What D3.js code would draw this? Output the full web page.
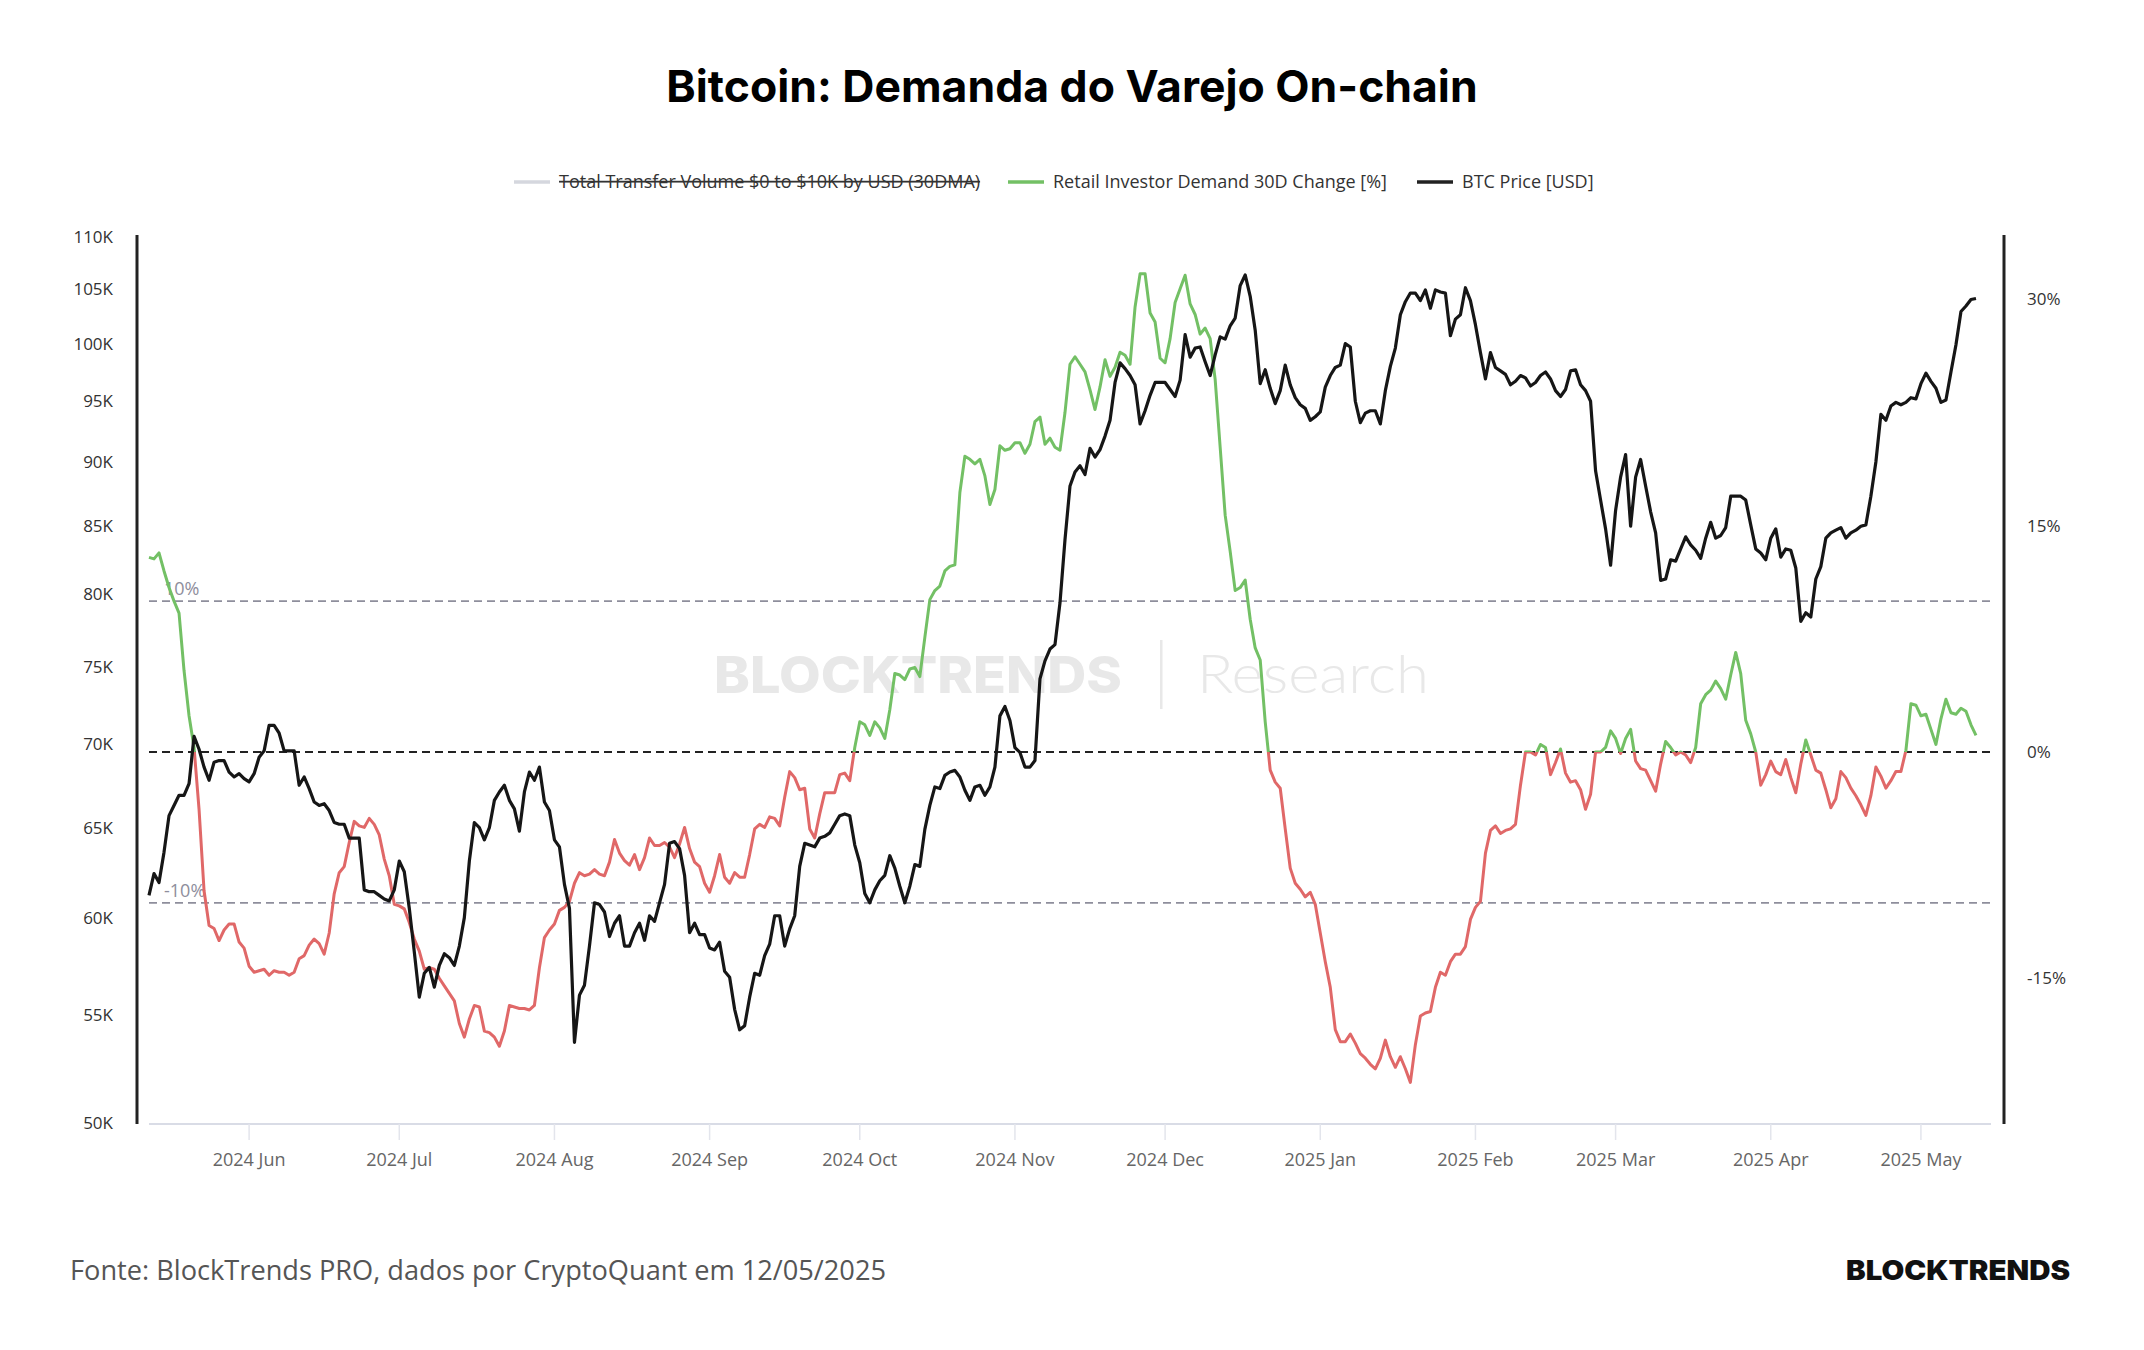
<!DOCTYPE html>
<html lang="pt">
<head>
<meta charset="UTF-8">
<title>Bitcoin: Demanda do Varejo On-chain</title>
<script src="https://d3js.org/d3.v7.min.js"></script>
<style>
  body { margin: 0; background: #fff; }
  svg { display: block; }
  .tick-label { font-family: "Open Sans", sans-serif; font-size: 17px; fill: #333; }
  .x-label { font-family: "Open Sans", sans-serif; font-size: 18px; fill: #666; }
  .legend-text { font-family: "Open Sans", sans-serif; font-size: 18px; fill: #333; }
</style>
</head>
<body>
<svg id="chart" width="2144" height="1350"></svg>
<script>
// Dados (diarios, a partir de 12/05/2024)
const startDate = "2024-05-12";

// BTC Price [USD], em milhares
const btcPrice = [
  61.2,62.4,61.9,63.6,65.7,66.3,66.9,66.9,67.6,70.5,69.7,68.6,67.8,68.9,69.0,69.0,68.3,68.0,68.2,67.9,
  67.7,68.2,69.2,69.6,71.2,71.2,70.7,69.6,69.6,69.6,67.5,68.0,67.3,66.5,66.3,66.4,66.0,65.3,65.2,65.2,
  64.4,64.4,64.4,61.5,61.4,61.4,61.2,61.0,60.9,61.5,63.1,62.5,60.5,58.2,55.9,57.1,57.4,56.4,57.5,58.1,
  57.9,57.5,58.5,60.0,63.1,65.3,65.0,64.3,65.0,66.6,67.1,67.5,66.6,66.1,64.8,67.1,68.3,67.8,68.6,66.5,
  66.0,64.3,63.9,61.8,60.5,53.7,56.0,56.5,58.5,60.8,60.7,60.3,59.0,59.7,60.1,58.5,58.5,59.2,59.7,58.8,
  60.1,59.8,60.8,61.8,64.1,64.2,63.8,62.3,59.2,59.7,59.1,59.1,58.4,58.3,58.7,57.2,56.9,55.3,54.3,54.5,
  55.9,57.1,57.0,58.0,58.6,60.1,60.1,58.5,59.4,60.1,62.8,64.1,64.0,63.9,64.4,64.5,64.7,65.2,65.7,65.8,
  65.7,64.0,63.0,61.3,60.8,61.5,62.0,62.3,63.4,62.7,61.7,60.8,61.7,62.9,62.8,64.9,66.3,67.4,67.3,68.1,
  68.3,68.4,68.0,67.2,66.6,67.4,67.5,66.9,67.4,68.6,71.8,72.4,71.5,69.8,69.5,68.6,68.6,69.0,74.2,75.4,
  76.2,76.5,79.4,84.0,88.1,89.2,89.7,89.0,91.1,90.4,91.0,92.1,93.4,96.6,98.3,97.8,97.2,96.4,93.1,94.2,
  95.5,96.6,96.6,96.6,96.0,95.4,96.8,100.8,98.8,99.6,99.7,98.4,97.2,99.0,100.6,100.4,101.6,102.3,105.3,106.3,
  104.3,101.2,96.5,97.7,96.1,94.8,95.9,98.1,96.4,95.3,94.7,94.4,93.4,93.7,94.1,96.2,97.2,97.9,98.1,100.0,
  99.7,95.0,93.2,94.0,94.2,94.2,93.1,95.9,98.0,99.6,102.6,103.8,104.6,104.6,103.9,104.9,103.2,104.9,104.7,104.6,
  100.7,102.2,102.6,105.1,103.9,101.7,99.2,96.9,99.2,97.9,97.6,97.3,96.4,96.7,97.2,97.0,96.3,96.6,97.2,97.5,
  96.9,95.9,95.4,96.0,97.6,97.7,96.4,95.9,95.0,89.3,87.0,84.8,82.1,86.2,88.8,90.6,85.0,88.8,90.2,88.1,
  86.1,84.5,81.0,81.1,82.5,82.4,83.3,84.2,83.6,83.2,82.6,84.1,85.3,84.1,84.3,84.9,87.3,87.3,87.3,87.0,
  85.1,83.3,83.0,82.5,84.1,84.8,82.7,83.3,83.2,81.9,78.1,78.7,78.4,81.1,82.0,84.1,84.5,84.7,84.9,84.1,
  84.5,84.7,85.0,85.1,87.3,90.0,93.9,93.4,94.6,94.9,94.7,94.9,95.3,95.2,96.5,97.4,96.7,96.1,94.9,95.1,
  97.5,99.9,102.9,103.4,104.0,104.1
];

// Retail Investor Demand 30D Change [%]
const retailDemand = [
  12.9,12.8,13.2,12.0,10.9,10.0,9.2,5.4,2.4,0.3,-3.8,-9.2,-11.5,-11.7,-12.5,-11.8,-11.4,-11.4,-12.6,-13.0,
  -14.2,-14.6,-14.5,-14.4,-14.8,-14.5,-14.6,-14.6,-14.8,-14.6,-13.7,-13.5,-12.8,-12.4,-12.7,-13.4,-12.0,-9.4,-8.0,-7.6,
  -6.0,-4.6,-4.9,-5.0,-4.4,-4.8,-5.5,-7.1,-8.2,-10.1,-10.2,-10.4,-11.3,-12.4,-13.2,-14.4,-14.3,-14.4,-15.0,-15.5,
  -16.0,-16.5,-18.0,-18.9,-17.7,-16.8,-16.9,-18.5,-18.6,-18.9,-19.5,-18.5,-16.8,-16.9,-17.0,-17.0,-17.1,-16.8,-14.3,-12.3,
  -11.8,-11.4,-10.5,-10.3,-9.9,-8.7,-8.0,-8.2,-8.1,-7.8,-8.1,-8.2,-7.3,-5.8,-6.7,-7.2,-7.5,-6.8,-7.8,-7.0,
  -5.7,-6.2,-6.2,-6.0,-6.3,-7.0,-6.1,-5.0,-6.4,-7.3,-7.6,-8.7,-9.3,-8.2,-6.8,-8.3,-8.7,-8.0,-8.3,-8.3,
  -6.8,-5.1,-4.8,-5.0,-4.3,-4.4,-4.9,-3.0,-1.3,-1.7,-2.5,-2.4,-5.1,-5.7,-4.1,-2.7,-2.7,-2.7,-1.5,-1.4,
  -1.9,0.3,2.0,1.8,1.1,2.0,1.6,0.9,2.8,5.2,5.1,4.8,5.5,5.6,5.0,7.6,10.1,10.7,11.0,12.0,
  12.3,12.4,17.2,19.6,19.4,19.1,19.4,18.3,16.4,17.4,20.3,20.0,20.1,20.5,20.5,19.8,20.4,21.9,22.2,20.4,
  20.8,20.2,20.0,22.5,25.7,26.2,25.7,25.2,24.0,22.7,24.2,26.0,24.9,25.5,26.5,26.3,25.7,29.5,31.7,31.7,
  29.1,28.5,26.1,25.8,27.4,29.8,30.7,31.6,29.7,29.0,27.7,28.1,27.4,24.7,20.2,15.7,13.3,10.7,10.9,11.4,
  8.8,6.9,6.1,2.0,-1.2,-2.0,-2.4,-5.1,-7.7,-8.7,-9.1,-9.6,-9.3,-10.1,-12.0,-13.9,-15.6,-18.4,-19.2,-19.2,
  -18.7,-19.3,-20.0,-20.3,-20.7,-21.0,-20.3,-19.1,-20.2,-20.9,-20.2,-21.0,-21.9,-19.4,-17.5,-17.3,-17.2,-15.6,-14.6,-14.8,
  -13.9,-13.4,-13.4,-12.9,-11.1,-10.3,-9.9,-6.7,-5.2,-4.9,-5.4,-5.2,-5.1,-4.8,-2.2,0.0,0.0,-0.2,0.5,0.3,
  -1.5,-0.7,0.2,-1.4,-2.0,-1.9,-2.5,-3.8,-2.8,0.0,0.0,0.3,1.4,0.9,-0.1,0.9,1.5,-0.6,-1.1,-1.2,
  -1.9,-2.6,-0.8,0.7,0.3,-0.2,0.0,-0.2,-0.7,0.3,3.2,3.8,4.1,4.7,4.2,3.5,5.1,6.6,5.2,2.1,
  1.2,0.0,-2.2,-1.5,-0.6,-1.3,-1.5,-0.5,-1.7,-2.7,-0.8,0.8,-0.2,-1.2,-1.4,-2.5,-3.7,-3.1,-1.3,-1.7,
  -2.4,-2.9,-3.5,-4.2,-2.9,-1.0,-1.6,-2.4,-1.9,-1.3,-1.3,0.1,3.2,3.1,2.4,2.5,1.5,0.5,2.2,3.5,
  2.6,2.5,2.9,2.7,1.8,1.1
];

const priceTicks = [50, 55, 60, 65, 70, 75, 80, 85, 90, 95, 100, 105, 110];
const pctTicks = [-15, 0, 15, 30];
const refLines = [10, 0, -10];
const monthTicks = ["2024-06-01","2024-07-01","2024-08-01","2024-09-01","2024-10-01","2024-11-01",
                    "2024-12-01","2025-01-01","2025-02-01","2025-03-01","2025-04-01","2025-05-01"];
const monthLabels = ["2024 Jun","2024 Jul","2024 Aug","2024 Sep","2024 Oct","2024 Nov",
                     "2024 Dec","2025 Jan","2025 Feb","2025 Mar","2025 Apr","2025 May"];

const parse = d3.timeParse("%Y-%m-%d");
const t0 = parse(startDate);
const priceData = btcPrice.map((v, i) => ({ date: d3.timeDay.offset(t0, i), value: v }));
const demandData = retailDemand.map((v, i) => ({ date: d3.timeDay.offset(t0, i), value: v }));

// Dimensoes
const W = 2144, H = 1350;
const plot = { left: 149, right: 1991, top: 236.5, bottom: 1122.5 };

const svg = d3.select("#chart");
svg.append("rect").attr("width", W).attr("height", H).attr("fill", "#fff");

// Escalas
const x = d3.scaleTime()
  .domain([t0, parse("2025-05-15")])
  .range([plot.left, plot.right]);
const yPrice = d3.scaleLog()
  .domain([50, 110])
  .range([plot.bottom, plot.top]);
const yPct = d3.scaleLinear()
  .domain([-24.56, 34.17])
  .range([plot.bottom, plot.top]);

// Titulo
svg.append("text")
  .attr("x", 1072).attr("y", 102)
  .attr("text-anchor", "middle")
  .style("font-family", "Inter, sans-serif")
  .style("font-weight", 700)
  .style("font-size", "44.5px")
  .attr("fill", "#000")
  .text("Bitcoin: Demanda do Varejo On-chain");

// Legenda
const legend = svg.append("g").attr("transform", "translate(0,182)");
const legendItems = [
  { x: 514, color: "#d5d7de", label: "Total Transfer Volume $0 to $10K by USD (30DMA)", off: true },
  { x: 1008, color: "#73c065", label: "Retail Investor Demand 30D Change [%]" },
  { x: 1417, color: "#222", label: "BTC Price [USD]" }
];
legendItems.forEach(d => {
  legend.append("line")
    .attr("x1", d.x).attr("x2", d.x + 36)
    .attr("y1", 0).attr("y2", 0)
    .attr("stroke", d.color).attr("stroke-width", 3.5);
  legend.append("text")
    .attr("class", "legend-text")
    .attr("x", d.x + 45).attr("y", 6)
    .attr("fill", d.off ? "#8a8a8a" : "#333")
    .style("text-decoration", d.off ? "line-through" : null)
    .text(d.label);
});

// Marca d'agua
const wm = svg.append("g").attr("fill", "#e8e8e8");
wm.append("text")
  .attr("x", 714).attr("y", 693)
  .attr("textLength", 408).attr("lengthAdjust", "spacingAndGlyphs")
  .style("font-family", "Inter, sans-serif")
  .style("font-weight", 800)
  .style("font-size", "51px")
  .text("BLOCKTRENDS");
wm.append("rect")
  .attr("x", 1160).attr("y", 640).attr("width", 2.5).attr("height", 69);
wm.append("text")
  .attr("x", 1197).attr("y", 693)
  .attr("textLength", 232).attr("lengthAdjust", "spacingAndGlyphs")
  .style("font-family", "Lato, sans-serif")
  .style("font-weight", 300)
  .style("font-size", "53px")
  .text("Research");

// Linhas de referencia
const refG = svg.append("g");
refLines.forEach(v => {
  refG.append("line")
    .attr("x1", plot.left).attr("x2", plot.right)
    .attr("y1", yPct(v)).attr("y2", yPct(v))
    .attr("stroke", v === 0 ? "#222" : "#8e8e9c")
    .attr("stroke-width", v === 0 ? 2 : 1.6)
    .attr("stroke-dasharray", "8,5");
});
refG.selectAll("text.ref")
  .data(refLines.filter(v => v !== 0))
  .join("text")
  .attr("class", "ref")
  .attr("x", 164).attr("y", v => yPct(v) - 6)
  .style("font-family", "Open Sans, sans-serif")
  .style("font-size", "18px")
  .attr("fill", "#8e8e9c")
  .text(v => v + "%");

// Eixo X
svg.append("line")
  .attr("x1", plot.left).attr("x2", plot.right)
  .attr("y1", 1124).attr("y2", 1124)
  .attr("stroke", "#d9dce6").attr("stroke-width", 2);
const xTickG = svg.append("g");
monthTicks.forEach((m, i) => {
  const px = x(parse(m));
  xTickG.append("line")
    .attr("x1", px).attr("x2", px)
    .attr("y1", 1124).attr("y2", 1140)
    .attr("stroke", "#e3e5ec").attr("stroke-width", 1.5);
  xTickG.append("text")
    .attr("class", "x-label")
    .attr("x", px).attr("y", 1166)
    .attr("text-anchor", "middle")
    .text(monthLabels[i]);
});

// Eixos Y
svg.append("line")
  .attr("x1", 137).attr("x2", 137).attr("y1", 235).attr("y2", 1124)
  .attr("stroke", "#222").attr("stroke-width", 3);
svg.append("line")
  .attr("x1", 2004).attr("x2", 2004).attr("y1", 235).attr("y2", 1124)
  .attr("stroke", "#222").attr("stroke-width", 3);

svg.append("g").selectAll("text")
  .data(priceTicks)
  .join("text")
  .attr("class", "tick-label")
  .attr("x", 113).attr("y", d => yPrice(d) + 6)
  .attr("text-anchor", "end")
  .text(d => d + "K");

svg.append("g").selectAll("text")
  .data(pctTicks)
  .join("text")
  .attr("class", "tick-label")
  .attr("x", 2027).attr("y", d => yPct(d) + 6)
  .text(d => d + "%");

// Linha de demanda: verde acima de 0, vermelha abaixo
const defs = svg.append("defs");
defs.append("clipPath").attr("id", "clipAbove")
  .append("rect").attr("x", 0).attr("y", 0).attr("width", W).attr("height", yPct(0));
defs.append("clipPath").attr("id", "clipBelow")
  .append("rect").attr("x", 0).attr("y", yPct(0)).attr("width", W).attr("height", H - yPct(0));

const demandLine = d3.line().x(d => x(d.date)).y(d => yPct(d.value));
svg.append("path")
  .datum(demandData)
  .attr("clip-path", "url(#clipAbove)")
  .attr("fill", "none").attr("stroke", "#73c065").attr("stroke-width", 3)
  .attr("stroke-linejoin", "round")
  .attr("d", demandLine);
svg.append("path")
  .datum(demandData)
  .attr("clip-path", "url(#clipBelow)")
  .attr("fill", "none").attr("stroke", "#e06868").attr("stroke-width", 3)
  .attr("stroke-linejoin", "round")
  .attr("d", demandLine);

// Linha de preco
const priceLine = d3.line().x(d => x(d.date)).y(d => yPrice(d.value));
svg.append("path")
  .datum(priceData)
  .attr("fill", "none").attr("stroke", "#161616").attr("stroke-width", 3.2)
  .attr("stroke-linejoin", "round")
  .attr("d", priceLine);

// Rodape
svg.append("text")
  .attr("x", 70).attr("y", 1280)
  .style("font-family", "Open Sans, sans-serif")
  .style("font-size", "27.2px")
  .attr("fill", "#555")
  .text("Fonte: BlockTrends PRO, dados por CryptoQuant em 12/05/2025");
svg.append("text")
  .attr("x", 1846).attr("y", 1280)
  .attr("textLength", 224).attr("lengthAdjust", "spacingAndGlyphs")
  .style("font-family", "Inter, sans-serif")
  .style("font-weight", 900)
  .style("font-size", "27px")
  .attr("fill", "#111")
  .text("BLOCKTRENDS");
</script>
</body>
</html>
